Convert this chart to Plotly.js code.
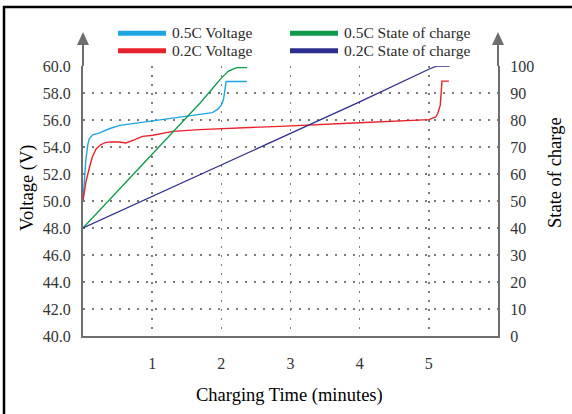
<!DOCTYPE html>
<html><head><meta charset="utf-8">
<script src="https://cdn.plot.ly/plotly-3.0.1.min.js"></script>
<style>html,body{margin:0;padding:0;background:#fff}#chart{width:572px;height:414px}</style>
</head><body><div id="chart"></div>
<script>
// ---- data ----
const timeV05 = [0, 0.02, 0.04, 0.07, 0.09, 0.14, 0.24, 0.38, 0.53, 0.72, 1.0, 1.44, 1.87, 1.95, 2.0, 2.03, 2.05, 2.07, 2.37];
const voltV05 = [50.0, 51.5, 53.0, 54.2, 54.6, 54.9, 55.05, 55.35, 55.6, 55.73, 55.93, 56.22, 56.55, 56.8, 57.1, 57.5, 58.1, 58.85, 58.85];

const timeV02 = [0, 0.046, 0.094, 0.137, 0.19, 0.25, 0.32, 0.4, 0.53, 0.62, 0.75, 0.86, 1.01, 1.3, 1.68, 2.17, 2.84, 4.0, 5.0, 5.1, 5.13, 5.165, 5.18, 5.19, 5.29];
const voltV02 = [50.05, 51.5, 52.5, 53.3, 53.85, 54.15, 54.32, 54.38, 54.37, 54.3, 54.55, 54.79, 54.87, 55.16, 55.29, 55.41, 55.53, 55.8, 56.03, 56.22, 56.5, 57.1, 58.0, 58.88, 58.88];

const timeS05 = [0, 1.0, 1.7, 1.9, 2.0, 2.1, 2.2, 2.25, 2.37];
const socS05  = [40, 67.5, 86.5, 92.5, 95.5, 98.0, 99.2, 99.4, 99.4];

const timeS02 = [0, 1, 2, 3, 4, 5.0, 5.12, 5.3];
const socS02  = [40, 51.7, 63.4, 75.1, 86.7, 98.8, 100, 100];

const seriesNames = ['0.5C Voltage', '0.2C Voltage', '0.5C State of charge', '0.2C State of charge'];
const seriesColors = ['#1ea6e4', '#e8222b', '#0f9a4b', '#2c2f8d'];
const xTicks = [1, 2, 3, 4, 5];

// ---- layout helpers (pixel -> paper) ----
const L = 83, R = 498, T = 66, B = 336;
const px = x => (x - L) / (R - L);
const py = y => (B - y) / (B - T);

const serif = 'Liberation Serif, Times New Roman, serif';
const gridStyle = {showgrid: true, gridcolor: '#7a7a7a', griddash: '2px,7px', gridwidth: 1.6};

const traces = [
  {x: timeS05, y: socS05, yaxis: 'y2', name: seriesNames[2], mode: 'lines', line: {color: seriesColors[2], width: 1.3}, showlegend: false},
  {x: timeS02, y: socS02, yaxis: 'y2', name: seriesNames[3], mode: 'lines', line: {color: seriesColors[3], width: 1.3}, showlegend: false},
  {x: timeV05, y: voltV05, name: seriesNames[0], mode: 'lines', line: {color: seriesColors[0], width: 1.4}, showlegend: false},
  {x: timeV02, y: voltV02, name: seriesNames[1], mode: 'lines', line: {color: seriesColors[1], width: 1.4}, showlegend: false}
];

const axisGray = '#6e6e6e';
const shapes = [
  // outer frame
  {type: 'rect', xref: 'paper', yref: 'paper', x0: px(4), x1: px(640), y0: py(7), y1: py(460), line: {color: '#000', width: 2.5}},
  // axis extensions + arrowheads
  {type: 'line', xref: 'paper', yref: 'paper', x0: px(83), x1: px(83), y0: py(44), y1: py(66), line: {color: axisGray, width: 2}},
  {type: 'line', xref: 'paper', yref: 'paper', x0: px(498), x1: px(498), y0: py(44), y1: py(66), line: {color: axisGray, width: 2}},
  {type: 'path', xref: 'paper', yref: 'paper', fillcolor: axisGray, line: {width: 0},
   path: `M ${px(83)} ${py(32)} L ${px(77)} ${py(45)} L ${px(89)} ${py(45)} Z`},
  {type: 'path', xref: 'paper', yref: 'paper', fillcolor: axisGray, line: {width: 0},
   path: `M ${px(498)} ${py(32)} L ${px(492)} ${py(45)} L ${px(504)} ${py(45)} Z`}
];

// legend (drawn as shapes + text)
const legPos = [[118, 33.3], [118, 50.7], [290, 33.3], [290, 50.7]];
const legText = [32.3, 50.5, 32.3, 50.5];
const annotations = [];
legPos.forEach((p, i) => {
  shapes.push({type: 'line', xref: 'paper', yref: 'paper', x0: px(p[0]), x1: px(p[0] + 48), y0: py(p[1]), y1: py(p[1]),
    line: {color: seriesColors[i], width: 5}});
  annotations.push({xref: 'paper', yref: 'paper', x: px(p[0] + 53), y: py(legText[i]), xanchor: 'left', yanchor: 'middle',
    text: seriesNames[i], showarrow: false, borderpad: 0, font: {family: serif, size: 15.5, color: '#2a2a2a'}});
});
// axis titles
annotations.push({xref: 'paper', yref: 'paper', x: px(27), y: py(188), text: 'Voltage (V)', textangle: -90, showarrow: false,
  xanchor: 'center', yanchor: 'middle', font: {family: serif, size: 18.5, color: '#000'}});
annotations.push({xref: 'paper', yref: 'paper', x: px(555), y: py(173), text: 'State of charge', textangle: -90, showarrow: false,
  xanchor: 'center', yanchor: 'middle', font: {family: serif, size: 18.5, color: '#000'}});
annotations.push({xref: 'paper', yref: 'paper', x: px(289), y: py(395), text: 'Charging Time (minutes)', showarrow: false,
  xanchor: 'center', yanchor: 'middle', font: {family: serif, size: 18.5, color: '#000'}});

const tickFont = {family: serif, size: 16, color: '#333'};
const layout = {
  width: 572, height: 414,
  margin: {l: L, r: 572 - R, t: T, b: 414 - B, pad: 0},
  paper_bgcolor: '#fff', plot_bgcolor: '#fff',
  showlegend: false,
  xaxis: Object.assign({range: [0, 6], tickmode: 'array', tickvals: xTicks, ticktext: xTicks.map(String),
    showline: true, linecolor: axisGray, linewidth: 2, zeroline: false,
    ticks: 'outside', ticklen: 12, tickcolor: 'rgba(0,0,0,0)', tickfont: tickFont, fixedrange: true}, gridStyle),
  yaxis: Object.assign({range: [40, 60], tick0: 40, dtick: 2, tickformat: '.1f',
    showline: true, linecolor: axisGray, linewidth: 2, zeroline: false,
    ticks: 'outside', ticklen: 7, tickcolor: 'rgba(0,0,0,0)', tickfont: tickFont, fixedrange: true}, gridStyle),
  yaxis2: {overlaying: 'y', side: 'right', range: [0, 100], tick0: 0, dtick: 10, showgrid: false,
    showline: true, linecolor: axisGray, linewidth: 2, zeroline: false,
    ticks: 'outside', ticklen: 7, tickcolor: 'rgba(0,0,0,0)', tickfont: tickFont, fixedrange: true},
  shapes: shapes,
  annotations: annotations
};

Plotly.newPlot('chart', traces, layout, {displayModeBar: false, staticPlot: true});
</script>
</body></html>
